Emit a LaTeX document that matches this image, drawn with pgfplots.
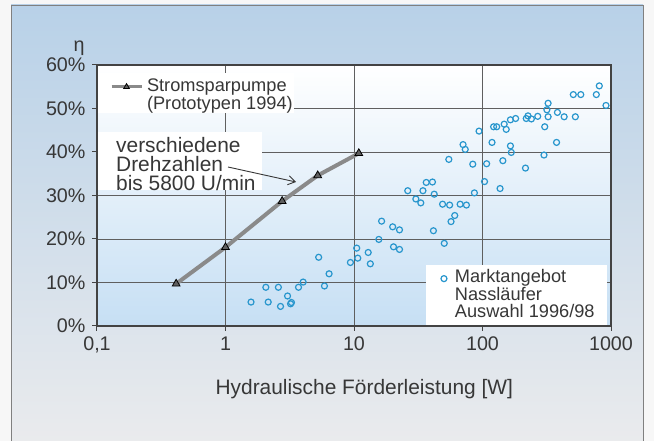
\documentclass[border=0pt]{standalone}
\usepackage{fontspec}
\setmainfont{Liberation Sans}
\usepackage{pgfplots}
\pgfplotsset{compat=1.18}
\usetikzlibrary{arrows.meta}
\definecolor{txt}{RGB}{55,55,55}
\definecolor{gridc}{RGB}{95,95,95}
\definecolor{mblue}{RGB}{40,150,205}
\definecolor{lgray}{RGB}{138,138,138}
\definecolor{tgray}{RGB}{95,95,95}
\definecolor{outtop}{RGB}{184,209,232}
\definecolor{outmid}{RGB}{212,225,236}
\definecolor{outbot}{RGB}{234,235,237}
\definecolor{inbot}{RGB}{198,223,244}
\begin{document}
\begin{tikzpicture}[x=1pt,y=1pt]
\useasboundingbox (0,0) rectangle (654,441);
\fill[white!94!gray] (0,0) rectangle (654,441);
\shade[top color=outtop, middle color=outmid, bottom color=outbot] (11,-3) rectangle (643,436);
\draw[gray, line width=0.8pt] (11,-3) rectangle (643,436);
\begin{axis}[
  at={(97pt,115pt)}, anchor=south west, scale only axis,
  width=514pt, height=261pt,
  xmode=log, xmin=0.1, xmax=1000, ymin=0, ymax=60,
  clip=false,
  xtick={0.1,1,10,100,1000}, xticklabels={{0,1},1,10,100,1000},
  ytick={0,10,...,60}, yticklabel={\pgfmathprintnumber{\tick}\%},
  xminorticks=false,
  grid=major, major grid style={gridc, line width=0.9pt},
  axis line style={gridc!70!black, line width=1.1pt},
  tick align=outside, tick pos=left, major tick length=5pt,
  tick style={line width=1pt, gridc!70!black},
  ticklabel style={font=\fontsize{19.7}{19.7}\selectfont, text=txt},
  yticklabel style={xshift=-3pt},
  xticklabel style={yshift=-2pt},
  /pgf/number format/assume math mode=true,
  axis background/.style={shade, top color=white, middle color=white, bottom color=inbot},
  xlabel={Hydraulische Förderleistung [W]},
  xlabel style={at={(axis description cs:0.52,-0.241)}, anchor=center, font=\fontsize{20.9}{20.9}\selectfont, text=txt},
  legend style={at={(0.025,0.951)}, anchor=north west, draw=none, fill=none,
    font=\fontsize{18.2}{18.2}\selectfont, text=txt, inner sep=0pt, row sep=0pt, column sep=3pt,
    nodes={inner sep=1pt, text height=12.3pt, text depth=3.5pt}},
  legend cell align=left,
  legend image code/.code={\draw[mark repeat=2,mark phase=2,mark size=3.3pt,line width=3pt] plot coordinates {(0pt,0pt)(15pt,0pt)(30pt,0pt)};},
]
\fill[white] (rel axis cs:0.002,0.816) rectangle (rel axis cs:0.383,0.969);
\fill[white] (rel axis cs:0.002,0.521) rectangle (rel axis cs:0.321,0.743);
\fill[white] (rel axis cs:0.640,0.004) rectangle (rel axis cs:0.992,0.233);
\addplot[lgray, line width=4pt, mark=triangle*, mark size=4.5pt,
  mark options={fill=tgray, draw=black, line width=0.8pt, solid}]
  coordinates {(0.413,9.7)(1.0,18.1)(2.76,28.7)(5.22,34.6)(10.9,39.7)};
\addlegendentry{Stromsparpumpe}
\addlegendimage{empty legend}
\addlegendentry{(Prototypen 1994)}
\addplot[only marks, mark=o, mark size=3pt, mblue, line width=1.2pt, forget plot]
  coordinates {
  (1.58,5.5)(2.06,8.9)(2.15,5.5)(2.58,8.9)(2.68,4.5)(3.04,6.9)(3.21,5.1)(3.26,5.4)
  (3.70,8.9)(4.02,10.1)(5.31,15.8)(5.89,9.2)(6.40,12.0)(9.38,14.6)(10.5,17.9)(10.7,15.6)
  (12.9,16.9)(13.4,14.3)(15.6,19.9)(16.4,24.1)(20.0,22.8)(20.3,18.2)(22.6,22.1)(22.6,17.6)
  (26.2,31.1)(30.3,29.2)(33.1,28.3)(34.4,31.1)(36.5,33.0)(40.8,33.1)(42.1,30.3)(41.5,21.9)
  (48.9,28.0)(50.4,19.0)(54.7,38.3)(55.5,27.8)(56.9,24.0)(60.8,25.4)(67.0,28.0)(70.6,41.7)
  (73.4,40.6)(75.0,27.8)(84.0,37.2)(86.5,30.6)(94.0,44.8)(103.7,33.2)(107.7,37.3)(118.6,42.2)
  (122,45.8)(129,45.8)(137,31.6)(144,38.0)(147.5,46.4)(153,45.2)(165,41.4)(167.5,39.9)
  (165,47.4)(181,47.7)(216,36.3)(219,47.7)(226,48.3)(240,47.6)(269,48.2)(301,39.3)
  (305,45.8)(317,49.7)(324,51.2)(324,48.1)(377,42.2)(383,49.1)(432,48.1)(509,53.2)
  (528,48.1)(582,53.2)(769,53.2)(811,55.2)(914,50.7)
  };
\end{axis}
\begin{axis}[
  at={(97pt,115pt)}, anchor=south west, scale only axis,
  width=514pt, height=261pt,
  xmode=log, xmin=0.1, xmax=1000, ymin=0, ymax=60,
  hide axis,
  legend style={at={(0.658,0.2157)}, anchor=north west, draw=none, fill=none,
    font=\fontsize{18.2}{18.2}\selectfont, text=txt, inner sep=0pt, row sep=0pt, column sep=7pt,
    nodes={inner sep=1pt, text height=12pt, text depth=3.5pt}},
  legend cell align=left,
]
\addlegendimage{only marks, mark=o, mark size=3pt, mblue, line width=1.2pt}
\addlegendentry{Marktangebot}
\addlegendimage{empty legend}
\addlegendentry{Nassläufer}
\addlegendimage{empty legend}
\addlegendentry{Auswahl 1996/98}
\end{axis}
\node[anchor=west, align=left, font=\fontsize{20.9}{19}\selectfont, text=txt, inner sep=0pt] at (116,277) {verschiedene\\Drehzahlen\\bis 5800 U/min};
\draw[line width=0.9pt, txt, -{Straight Barb[length=7pt,width=9pt]}] (228,274) -- (296,259);
\node[font=\fontsize{19.7}{19.7}\selectfont, text=txt] at (79,393) {η};
\end{tikzpicture}
\end{document}
